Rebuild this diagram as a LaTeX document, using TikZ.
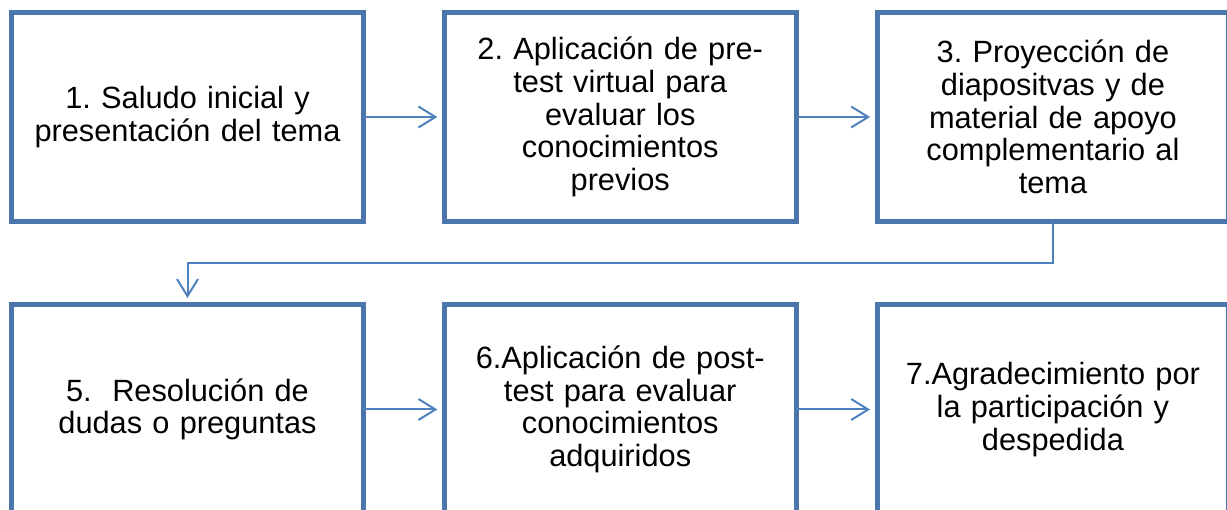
\documentclass[tikz,border=0pt]{standalone}
\usepackage{fontspec}
\setmainfont{Liberation Sans}
\usetikzlibrary{arrows.meta,positioning}
\definecolor{Frame}{HTML}{4A76AC}
\definecolor{Link}{HTML}{4F81BD}
\tikzset{
  stepbox/.style={
    draw=Frame, line width=0.1cm, fill=white, outer sep=0pt,
    minimum width=7.02cm, minimum height=4.18cm, text width=6.8cm,
    align=center, font=\fontsize{17.5}{18.6}\selectfont\frenchspacing
  },
  link/.style={-{Straight Barb[length=0.34cm,width=0.42cm]}, draw=Link,
    line width=0.04cm, shorten >=0.14cm}
}

\begin{document}
\begin{tikzpicture}[node distance=1.67cm and 1.62cm]
        \useasboundingbox (0,0) rectangle (24.54,-10.2);
        \node[stepbox] (a) at (3.75,-2.34) {1. Saludo inicial y\\presentación del tema};
        \node[stepbox,right=of a] (b) {2. Aplicación de pre-\\test virtual para\\evaluar los\\conocimientos\\previos};
        \node[stepbox,right=of b] (c) {3. Proyección de\\diapositvas y de\\material de apoyo\\complementario al\\tema};
        \node[stepbox,below=of a] (e) {5.\ \ Resolución de\\dudas o preguntas};
        \node[stepbox,right=of e] (f) {6.Aplicación de post-\\test para evaluar\\conocimientos\\adquiridos};
        \node[stepbox,right=of f] (g) {7.Agradecimiento por\\la participación y\\despedida};
        \draw[link] (a)--(b);
        \draw[link] (b)--(c);
        \draw[link] (c.south) -- ++(0,-0.83) -| (e.north);
        \draw[link] (e)--(f);
        \draw[link] (f)--(g);
      \end{tikzpicture}
\end{document}
